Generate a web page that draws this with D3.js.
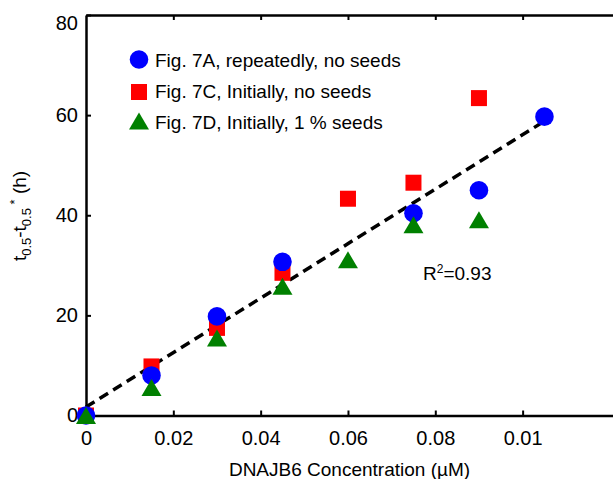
<!DOCTYPE html>
<html>
<head>
<meta charset="utf-8" />
<title>DNAJB6</title>
<script src="https://d3js.org/d3.v7.min.js"></script>
<style>
body{
    margin:0;
    background:white;
}
text{
    font-family:"Liberation Sans", Arial, sans-serif;
    fill:black;
}
.axe path, .axe line{
    stroke:black;
}
</style>
</head>
<body>
<div id="graphe"></div>
<script>

// donnees
var xBleu = [0, 0.015, 0.03, 0.045, 0.075, 0.09, 0.105];
var yBleu = [0, 8.0, 19.8, 30.7, 40.4, 45.0, 59.7];

var xRouge = [0, 0.015, 0.03, 0.045, 0.06, 0.075, 0.09];
var yRouge = [0, 9.8, 17.5, 28.5, 43.3, 46.5, 63.4];

var xVert = [0, 0.015, 0.03, 0.045, 0.06, 0.075, 0.09];
var yVert = [0, 5.6, 15.5, 25.8, 31.1, 38.1, 39.1];

// droite de regression
var xFit = [0, 0.105];
var yFit = [1.7, 58.8];

var xTicks = [0, 0.02, 0.04, 0.06, 0.08, 0.10];
var xTickLabels = ['0', '0.02', '0.04', '0.06', '0.08', '0.01'];
var yTicks = [0, 20, 40, 60, 80];

var legende = ['Fig. 7A, repeatedly, no seeds', 'Fig. 7C, Initially, no seeds', 'Fig. 7D, Initially, 1 % seeds'];

var width = 613, height = 479;
var margin = {top: 15, left: 86, bottom: 63.5};

var svg = d3.select("#graphe").append("svg")
    .attr("width", width)
    .attr("height", height);

svg.append("rect")
    .attr("width", width)
    .attr("height", height)
    .attr("fill", "white");

var x = d3.scaleLinear()
    .domain([0, 0.1207])
    .range([margin.left, width]);
var y = d3.scaleLinear()
    .domain([0, 80])
    .range([height - margin.bottom, margin.top]);

// axe du bas
var axeX = svg.append("g")
    .attr("class", "axe")
    .attr("transform", "translate(0," + y(0) + ")")
    .call(d3.axisBottom(x).tickValues(xTicks)
        .tickFormat(function(d, i){ return xTickLabels[i]; })
        .tickSizeInner(-5).tickSizeOuter(0).tickPadding(15));
axeX.select(".domain").attr("stroke-width", 2.5);
axeX.selectAll("line").attr("stroke-width", 2);
axeX.selectAll("text").style("font-size", "20px").attr("font-family", null);

// axe du haut, sans etiquettes
var axeHaut = svg.append("g")
    .attr("class", "axe")
    .attr("transform", "translate(0," + y(80) + ")")
    .call(d3.axisTop(x).tickValues(xTicks.slice(1))
        .tickFormat("").tickSizeInner(-5).tickSizeOuter(0));
axeHaut.select(".domain").attr("stroke-width", 2.5);
axeHaut.selectAll("line").attr("stroke-width", 2);

// axe gauche
var axeY = svg.append("g")
    .attr("class", "axe")
    .attr("transform", "translate(" + x(0) + ",0)")
    .call(d3.axisLeft(y).tickValues(yTicks)
        .tickSizeInner(-5).tickSizeOuter(0).tickPadding(8));
axeY.select(".domain").attr("stroke-width", 2.5);
axeY.selectAll("line").attr("stroke-width", 2);
axeY.selectAll("text").style("font-size", "20px").attr("font-family", null)
    .attr("dy", function(d){ return d == 80 ? "0.7em" : "0.32em"; });

// titres des axes
svg.append("text")
    .attr("x", (x(0) + width) / 2)
    .attr("y", 476)
    .attr("text-anchor", "middle")
    .style("font-size", "19px")
    .text("DNAJB6 Concentration (µM)");

var titreY = svg.append("text")
    .attr("transform", "translate(26," + 216 + ") rotate(-90)")
    .attr("text-anchor", "middle")
    .style("font-size", "19px");
titreY.append("tspan").text("t");
titreY.append("tspan").attr("dy", 5).style("font-size", "13px").text("0.5");
titreY.append("tspan").attr("dy", -5).text("-t");
titreY.append("tspan").attr("dy", 5).style("font-size", "13px").text("0.5");
titreY.append("tspan").attr("dy", -12).style("font-size", "13px").text(" *");
titreY.append("tspan").attr("dy", 7).text(" (h)");

// ligne pointillee
var ligne = d3.line()
    .x(function(d){ return x(d[0]); })
    .y(function(d){ return y(d[1]); });

svg.append("path")
    .attr("d", ligne(d3.zip(xFit, yFit)))
    .attr("fill", "none")
    .attr("stroke", "black")
    .attr("stroke-width", 3.5)
    .attr("stroke-dasharray", "10,6");

// formes
function triangle(cx, cy){
    return "M" + (cx - 10) + "," + (cy + 8.5) + "L" + (cx + 10) + "," + (cy + 8.5) + "L" + cx + "," + (cy - 8.5) + "Z";
}

svg.append("g").selectAll("rect")
    .data(d3.zip(xRouge, yRouge))
    .enter().append("rect")
    .attr("x", function(d){ return x(d[0]) - 8; })
    .attr("y", function(d){ return y(d[1]) - 8; })
    .attr("width", 16)
    .attr("height", 16)
    .attr("fill", "#ff0000");

svg.append("g").selectAll("circle")
    .data(d3.zip(xBleu, yBleu))
    .enter().append("circle")
    .attr("cx", function(d){ return x(d[0]); })
    .attr("cy", function(d){ return y(d[1]); })
    .attr("r", 9.3)
    .attr("fill", "#0000ff");

svg.append("g").selectAll("path")
    .data(d3.zip(xVert, yVert))
    .enter().append("path")
    .attr("d", function(d){ return triangle(x(d[0]), y(d[1])); })
    .attr("fill", "#008000");

// legende
var leg = svg.append("g");
leg.append("circle").attr("cx", 139).attr("cy", 59.5).attr("r", 9.3).attr("fill", "#0000ff");
leg.append("rect").attr("x", 131).attr("y", 84).attr("width", 16).attr("height", 16).attr("fill", "#ff0000");
leg.append("path").attr("d", triangle(139, 121)).attr("fill", "#008000");

leg.selectAll("text")
    .data(legende)
    .enter().append("text")
    .attr("x", 155)
    .attr("y", function(d, i){ return 66.5 + i * 31; })
    .style("font-size", "19px")
    .text(function(d){ return d; });

// R2
var r2 = svg.append("text")
    .attr("x", 423)
    .attr("y", 280)
    .style("font-size", "19px");
r2.append("tspan").text("R");
r2.append("tspan").attr("dy", -7).style("font-size", "12px").text("2");
r2.append("tspan").attr("dy", 7).text("=0.93");

</script>
</body>
</html>
